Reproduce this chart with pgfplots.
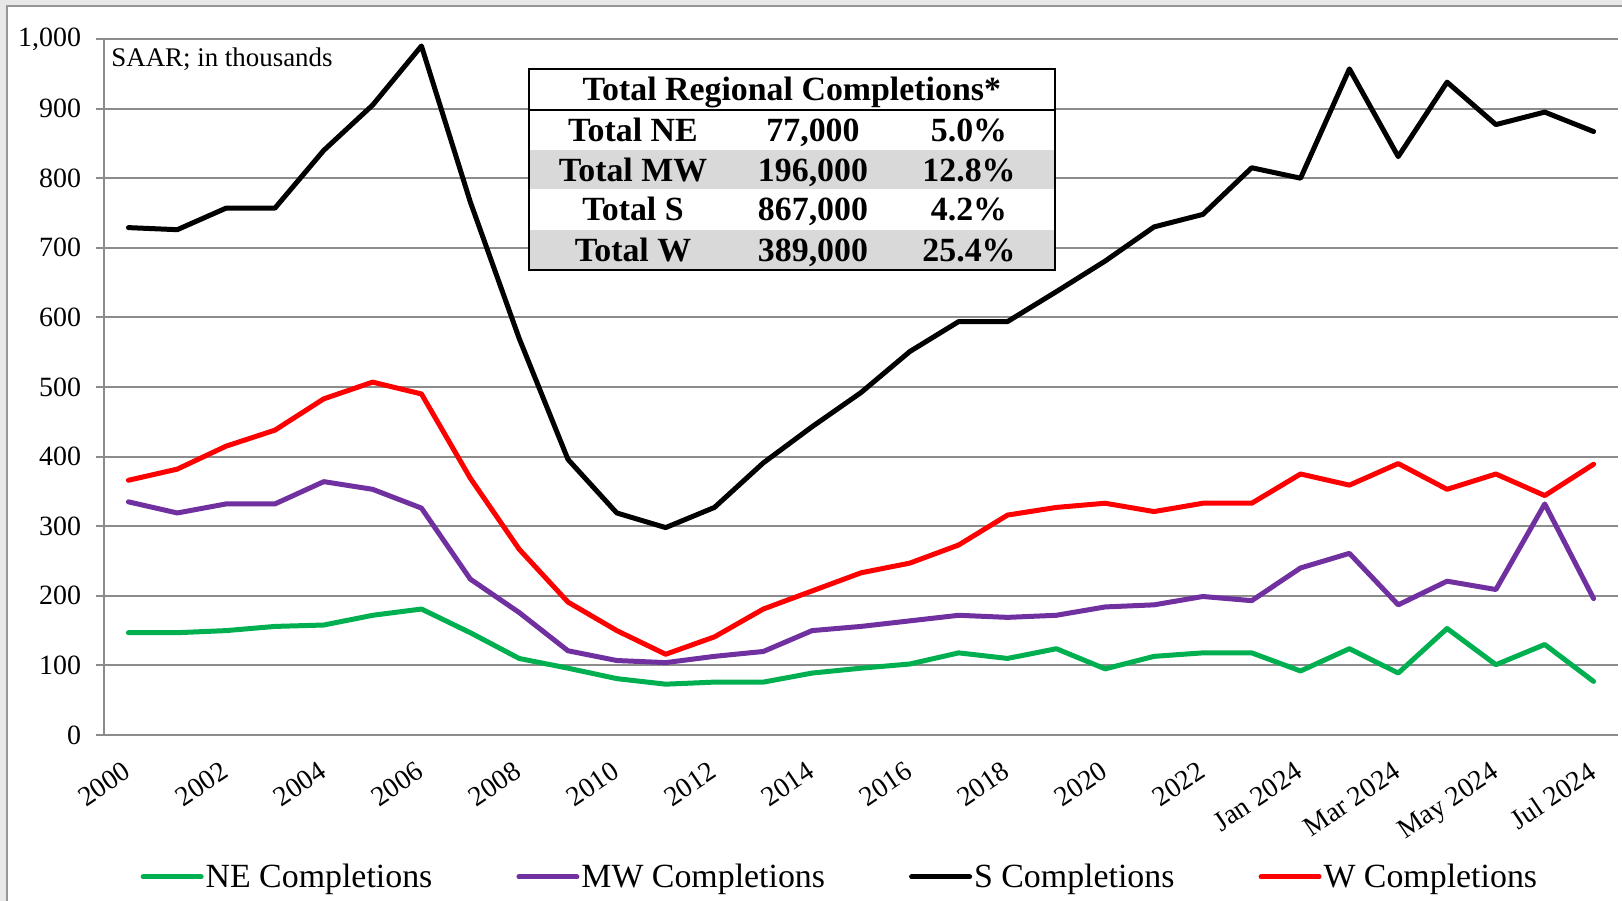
\documentclass[border=0pt]{standalone}
\usepackage{pgfplots}
\pgfplotsset{compat=1.18}
\usepackage{pgfplotstable}
\usepackage{fontspec}
\setmainfont{Liberation Serif}
\definecolor{neG}{RGB}{0,176,80}
\definecolor{mwP}{RGB}{112,48,160}
\definecolor{wR}{RGB}{255,0,0}
\definecolor{gridG}{RGB}{140,140,140}
\definecolor{rowG}{RGB}{217,217,217}
\definecolor{bgG}{RGB}{232,232,232}
\definecolor{edgeG}{RGB}{150,150,150}

\pgfplotstableread{
x NE MW S W
0 147 335 729 366
1 147 319 726 382
2 150 332 757 415
3 156 332 757 438
4 158 364 840 483
5 172 353 905 507
6 181 326 990 490
7 147 224 766 369
8 110 176 570 267
9 96 121 396 191
10 81 107 319 150
11 73 104 298 116
12 76 113 327 141
13 76 120 391 181
14 89 150 443 207
15 96 156 492 233
16 102 164 551 247
17 118 172 594 273
18 110 169 594 316
19 124 172 637 327
20 95 184 681 333
21 113 187 730 321
22 118 199 748 333
23 118 193 815 333
24 92 240 800 375
25 124 261 957 359
26 89 187 831 390
27 153 221 938 353
28 101 209 877 375
29 130 332 895 344
30 77 196 867 389
}\datatable

\begin{document}
\begin{tikzpicture}
\useasboundingbox (-52bp,-83bp) rectangle (759bp,367.5bp);
\fill[white] (-52bp,-83bp) rectangle (759bp,367.5bp);
% slide background edges
\fill[bgG] (-52bp,-83bp) rectangle (-48.5bp,367.5bp);
\fill[bgG] (-52bp,364.5bp) rectangle (759bp,367.5bp);
\draw[edgeG, line width=0.6bp] (-48.5bp,-83bp) -- (-48.5bp,364.5bp) -- (759bp,364.5bp);
\begin{axis}[
  at={(0,0)}, anchor=south west,
  scale only axis,
  width=757bp, height=348bp,
  xmin=-0.5, xmax=30.5,
  ymin=0, ymax=1000,
  axis lines=left,
  axis line style={-, gridG, line width=1bp},
  ytick={0,100,...,1000},
  xtick={0,2,...,30},
  xticklabels={2000,2002,2004,2006,2008,2010,2012,2014,2016,2018,2020,2022,Jan 2024,Mar 2024,May 2024,Jul 2024},
  minor xtick={-0.5,0.5,...,30.5},
  xtick style={draw=none},
  minor x tick style={gridG, line width=1bp},
  y tick style={gridG, line width=1bp},
  major tick length=4bp,
  minor tick length=4bp,
  tick align=outside,
  ymajorgrids,
  major grid style={gridG, line width=1bp},
  /pgf/number format/.cd, 1000 sep={,}, assume math mode=true,
  /pgfplots/.cd,
  yticklabel style={font=\fontsize{14}{16}\selectfont, xshift=-4bp},
  xticklabel style={font=\fontsize{14}{16}\selectfont, xshift=-2.9bp, yshift=-7.2bp, rotate=34, anchor=north east, inner sep=1bp},
  legend columns=4,
  legend style={draw=none, fill=none, at={(axis description cs:0.02,-0.204)}, anchor=west,
    font=\fontsize{17}{19}\selectfont,
    nodes={inner sep=1bp},
    /tikz/every even column/.append style={column sep=41bp}},
  legend image code/.code={\draw[#1, line width=2.5bp, line cap=round] (0bp,0bp) -- (29bp,0bp);},
  every axis plot/.append style={line width=2.5bp, line join=round, line cap=round},
]
\addplot[neG] table[x=x,y=NE] {\datatable};
\addlegendentry{NE Completions}
\addplot[mwP] table[x=x,y=MW] {\datatable};
\addlegendentry{MW Completions}
\addplot[black] table[x=x,y=S] {\datatable};
\addlegendentry{S Completions}
\addplot[wR] table[x=x,y=W] {\datatable};
\addlegendentry{W Completions}
\end{axis}
% annotation
\node[anchor=west, inner sep=0pt, font=\fontsize{13.5}{15}\selectfont] at (3.5bp,338bp) {SAAR; in thousands};
% summary table
\fill[white] (212.3bp,232.5bp) rectangle (475.5bp,332.9bp);
\fill[rowG] (212.3bp,272.9bp) rectangle (475.5bp,292.5bp);
\fill[rowG] (212.3bp,232.5bp) rectangle (475.5bp,252.7bp);
\draw[line width=1bp] (212.3bp,232.5bp) rectangle (475.5bp,332.9bp);
\draw[line width=1bp] (212.3bp,312.7bp) -- (475.5bp,312.7bp);
\begin{scope}[every node/.style={anchor=base, inner sep=0pt, font=\fontsize{17}{19}\selectfont\bfseries}]
\node at (343.9bp,317.0bp) {Total Regional Completions*};
\node at (264.5bp,296.8bp) {Total NE};
\node at (354.5bp,296.8bp) {77,000};
\node at (432.5bp,296.8bp) {5.0\%};
\node at (264.5bp,276.9bp) {Total MW};
\node at (354.5bp,276.9bp) {196,000};
\node at (432.5bp,276.9bp) {12.8\%};
\node at (264.5bp,257.0bp) {Total S};
\node at (354.5bp,257.0bp) {867,000};
\node at (432.5bp,257.0bp) {4.2\%};
\node at (264.5bp,236.8bp) {Total W};
\node at (354.5bp,236.8bp) {389,000};
\node at (432.5bp,236.8bp) {25.4\%};
\end{scope}
\end{tikzpicture}
\end{document}
